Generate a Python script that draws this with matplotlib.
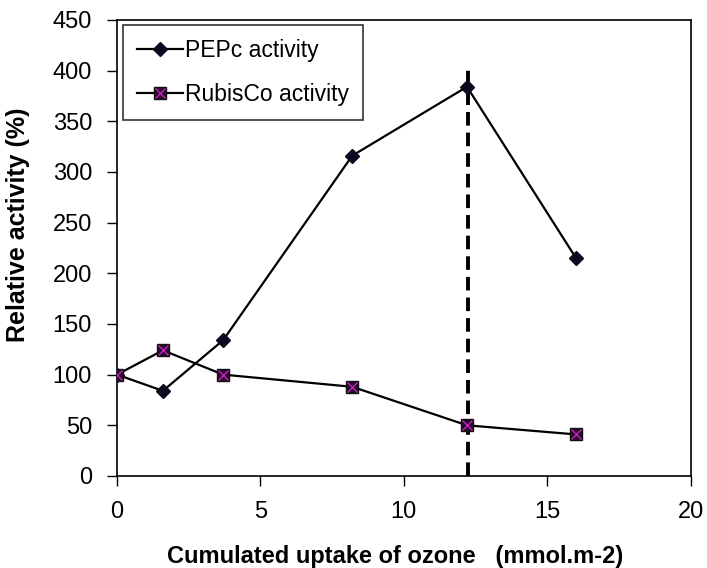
import matplotlib
matplotlib.use("Agg")
import matplotlib.pyplot as plt
from matplotlib.lines import Line2D

x_vals = [0, 1.6, 3.7, 8.2, 12.2, 16]
pepc = [100, 84, 134, 316, 384, 215]
rubisco = [100, 124, 100, 88, 50, 41]
vline_x = 12.25
vline_top = 405
xticks = [0, 5, 10, 15, 20]
yticks = list(range(0, 451, 50))

plt.rcParams['font.family'] = ['Liberation Sans', 'DejaVu Sans']

fig = plt.figure(figsize=(7.07, 5.68), dpi=100)
ax = fig.add_axes([0.1655, 0.162, 0.8115, 0.803])

LW = 1.6
ax.plot(x_vals, pepc, color='black', lw=LW, marker='D', ms=7.5,
        mfc='#0a0a20', mec='#0a0a20', zorder=3)
ax.plot(x_vals, rubisco, color='black', lw=LW, marker='s', ms=9,
        mfc='#2a0a2a', mec='#111111', zorder=3)
ax.plot(x_vals, rubisco, ls='none', marker='x', ms=7.5, mew=1,
        color='#c020c0', zorder=4)
ax.plot([vline_x, vline_x], [0, vline_top], color='black', lw=2.8,
        ls=(0, (3.5, 1.8)), zorder=2)

ax.set_xlim(0, 20)
ax.set_ylim(0, 450)
ax.set_xticks(xticks)
ax.set_yticks(yticks)
ax.tick_params(labelsize=17, direction='out', length=7, width=1)
ax.tick_params(axis='y', pad=11)
ax.tick_params(axis='x', pad=11)
for s in ax.spines.values():
    s.set_linewidth(1.2)

ax.set_xlabel('Cumulated uptake of ozone   (mmol.m-2)', fontweight='bold', fontsize=17)
ax.set_ylabel('Relative activity (%)', fontweight='bold', fontsize=18)
ax.xaxis.set_label_coords(0.484, -0.152)
ax.yaxis.set_label_coords(-0.151, 0.55)

h1 = Line2D([], [], color='black', lw=LW, marker='D', ms=7.5, mfc='#0a0a20', mec='#0a0a20')
h2a = Line2D([], [], color='black', lw=LW, marker='s', ms=9, mfc='#2a0a2a', mec='#111111')
h2b = Line2D([], [], ls='none', marker='x', ms=7.5, mew=1, color='#c020c0')
leg = ax.legend([h1, (h2a, h2b)], ['PEPc activity', 'RubisCo activity'],
                loc='upper left', bbox_to_anchor=(0.0105, 0.989), fontsize=16.5,
                frameon=True, fancybox=False, edgecolor='black', handlelength=2.0,
                handletextpad=0.1, borderpad=0.6, labelspacing=0.95, borderaxespad=0)
leg.get_frame().set_linewidth(1.2)

fig.savefig('out.png', dpi=100)
